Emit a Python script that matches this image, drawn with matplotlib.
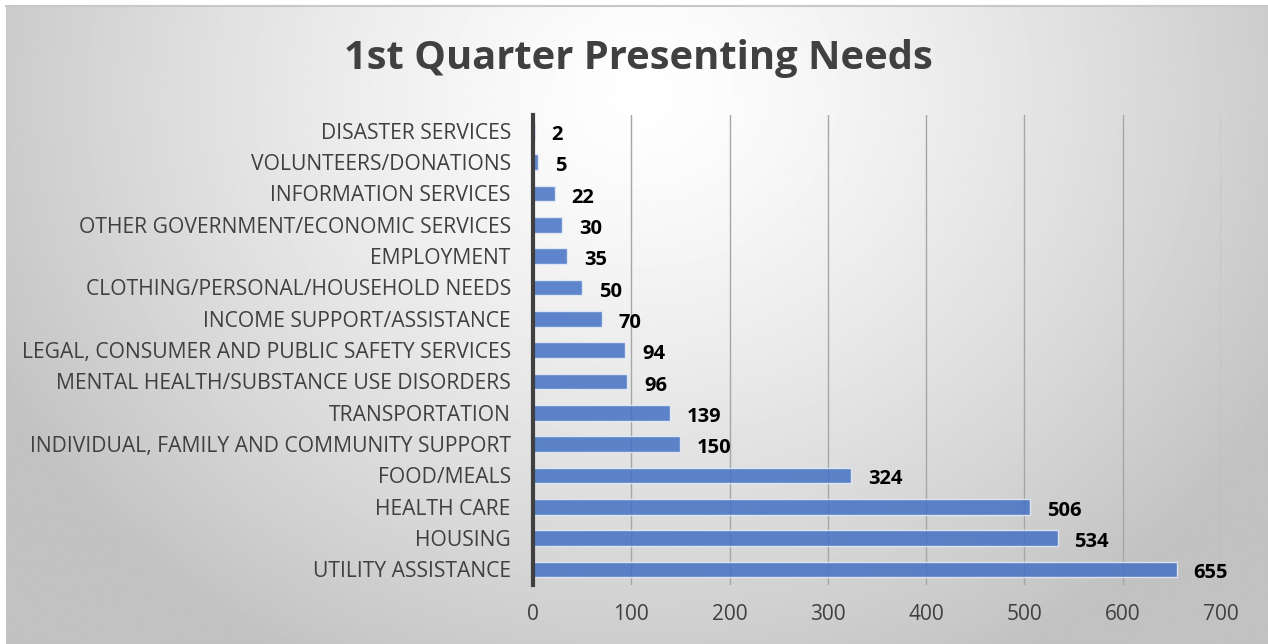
import matplotlib
matplotlib.use("Agg")
import matplotlib.pyplot as plt
import numpy as np

categories = [
    "UTILITY ASSISTANCE",
    "HOUSING",
    "HEALTH CARE",
    "FOOD/MEALS",
    "INDIVIDUAL, FAMILY AND COMMUNITY SUPPORT",
    "TRANSPORTATION",
    "MENTAL HEALTH/SUBSTANCE USE DISORDERS",
    "LEGAL, CONSUMER AND PUBLIC SAFETY SERVICES",
    "INCOME SUPPORT/ASSISTANCE",
    "CLOTHING/PERSONAL/HOUSEHOLD NEEDS",
    "EMPLOYMENT",
    "OTHER GOVERNMENT/ECONOMIC SERVICES",
    "INFORMATION SERVICES",
    "VOLUNTEERS/DONATIONS",
    "DISASTER SERVICES",
]
counts = [655, 534, 506, 324, 150, 139, 96, 94, 70, 50, 35, 30, 22, 5, 2]
x_ticks = [0, 100, 200, 300, 400, 500, 600, 700]

TITLE = "1st Quarter Presenting Needs"
BAR = "#4472C4"
TEXT = "#404040"
FONT = ["Open Sans", "DejaVu Sans"]

W, H = 1268, 644
fig = plt.figure(figsize=(W / 100, H / 100), dpi=100)

# radial grey-to-white backdrop covering the chart area
bg = fig.add_axes([6 / W, 0, 1 - 6 / W, 1 - 5 / H], zorder=0)
yy, xx = np.mgrid[0:H, 0:W]
r = np.sqrt(((xx - 640) / 700.0) ** 2 + ((yy - 90) / 620.0) ** 2)
r = np.clip(r / 1.05, 0, 1)
shade = 1.0 - 0.24 * r ** 1.3
bg.imshow(shade, cmap="gray", vmin=0, vmax=1, aspect="auto",
          extent=[0, 1, 0, 1], origin="upper")
bg.set_axis_off()
fig.add_artist(plt.Line2D([6 / W, 1], [1 - 5.5 / H, 1 - 5.5 / H],
                          transform=fig.transFigure, color="#c8c8c8", lw=1.5))

ax = fig.add_axes([533 / W, 1 - 585 / H, (1221 - 533) / W, (585 - 115) / H], zorder=1)
ax.patch.set_alpha(0)

y = np.arange(len(categories))
bars = ax.barh(y, counts, height=0.5, color=BAR, alpha=0.85,
               edgecolor="#e8eef8", linewidth=1.0, zorder=3)
labels = ax.bar_label(bars, labels=[str(v) for v in counts], padding=12,
                      fontsize=14.5, fontweight="bold", color="black",
                      family=FONT)
# value labels sit a little below the bar centre
for t in labels:
    t.xyann = (12, -3)

ax.set_xlim(0, 700)
ax.set_ylim(-0.5, len(categories) - 0.5)
ax.set_xticks(x_ticks)
ax.set_yticks(y)
ax.set_yticklabels(categories, family=FONT, fontsize=15.2, color=TEXT)
ax.tick_params(axis="x", length=0, pad=14, labelsize=15, labelcolor=TEXT)
ax.tick_params(axis="y", length=0, pad=16)
for t in ax.get_xticklabels():
    t.set_family(FONT)

ax.grid(axis="x", color="#a6a6a6", lw=1.0, zorder=1)
for s in ["top", "right", "bottom"]:
    ax.spines[s].set_visible(False)
ax.spines["left"].set_color("#404040")
ax.spines["left"].set_linewidth(3)
ax.spines["left"].set_zorder(4)

fig.text(638 / W, 1 - 58 / H, TITLE, ha="center", va="center",
         fontsize=28.7, fontweight="bold", color=TEXT, family=FONT)

fig.savefig("out.png", dpi=100)
